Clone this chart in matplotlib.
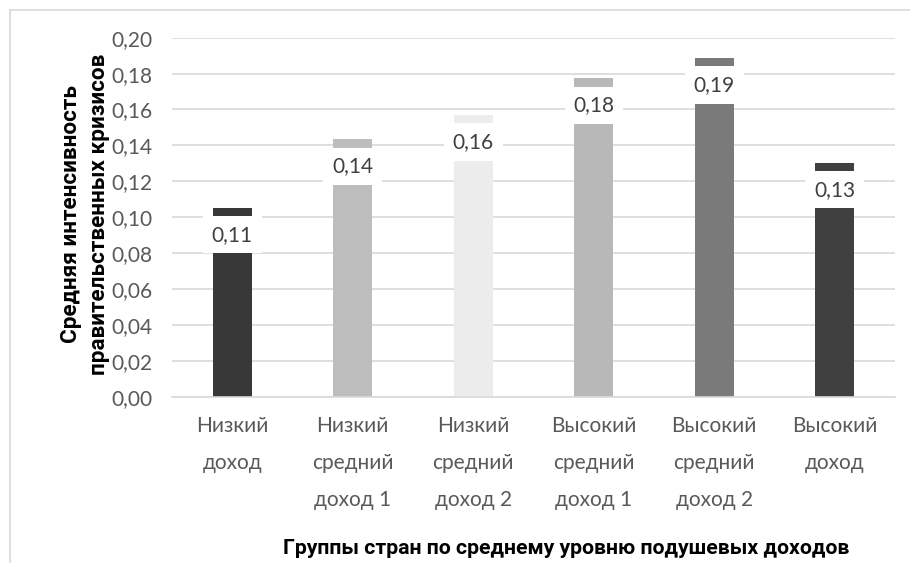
import matplotlib
matplotlib.use("Agg")
import matplotlib.pyplot as plt
from matplotlib.lines import Line2D
from matplotlib.ticker import FuncFormatter

plt.rcParams['font.family'] = ['Lato', 'DejaVu Sans']

# data
groups = ["Низкий\nдоход", "Низкий\nсредний\nдоход 1", "Низкий\nсредний\nдоход 2",
          "Высокий\nсредний\nдоход 1", "Высокий\nсредний\nдоход 2", "Высокий\nдоход"]
values = [0.1053, 0.1434, 0.1570, 0.1774, 0.1887, 0.1304]
labels = ["0,11", "0,14", "0,16", "0,18", "0,19", "0,13"]
colors = ["#383838", "#bdbdbd", "#ececec", "#b8b8b8", "#7a7a7a", "#404040"]
yticks = [0.0, 0.02, 0.04, 0.06, 0.08, 0.10, 0.12, 0.14, 0.16, 0.18, 0.20]

fig = plt.figure(figsize=(9.10, 5.63), dpi=100)
ax = fig.add_axes([172 / 910, 1 - 396.7 / 563, 723 / 910, 359 / 563])

x = range(len(groups))
ax.bar(x, values, width=0.32, color=colors, zorder=2)

for i, (v, t) in enumerate(zip(values, labels)):
    ax.annotate(t, xy=(i, v), xytext=(0, -27), textcoords="offset pixels",
                ha="center", va="center", fontsize=15, color="#404040", zorder=3,
                bbox=dict(boxstyle="square,pad=0.42", fc="white", ec="none"))

ax.set_xlim(-0.5, len(groups) - 0.5)
ax.set_ylim(0, 0.20)
ax.set_yticks(yticks)
ax.yaxis.set_major_formatter(FuncFormatter(lambda v, p: f"{v:.2f}".replace(".", ",")))
ax.set_xticks(list(x))
ax.set_xticklabels(groups, linespacing=2.05, va="top")
ax.tick_params(axis="both", length=0, labelsize=15, colors="#595959")
ax.tick_params(axis="x", pad=14)
ax.tick_params(axis="y", pad=14)
ax.grid(axis="y", color="#d9d9d9", linewidth=1.2, zorder=0)
for s in ["top", "right", "left"]:
    ax.spines[s].set_visible(False)
ax.spines["bottom"].set_color("#d9d9d9")
ax.spines["bottom"].set_linewidth(1.2)

bold = dict(family="Roboto", fontweight="bold", color="black")
fig.text(566 / 910, 1 - 548 / 563, "Группы стран по среднему уровню подушевых доходов",
         ha="center", va="center", fontsize=15.3, **bold)
fig.text(85 / 910, 1 - 214 / 563, "Средняя интенсивность\nправительственных кризисов",
         ha="center", va="center", rotation=90, fontsize=16.2,
         linespacing=1.4, **bold)

# chart frame
fig.add_artist(Line2D([10 / 910, 1], [1 - 10 / 563, 1 - 10 / 563], color="#d9d9d9", lw=1.2))
fig.add_artist(Line2D([10 / 910, 10 / 910], [0, 1 - 10 / 563], color="#d9d9d9", lw=1.2))

fig.savefig("out.png", dpi=100)
